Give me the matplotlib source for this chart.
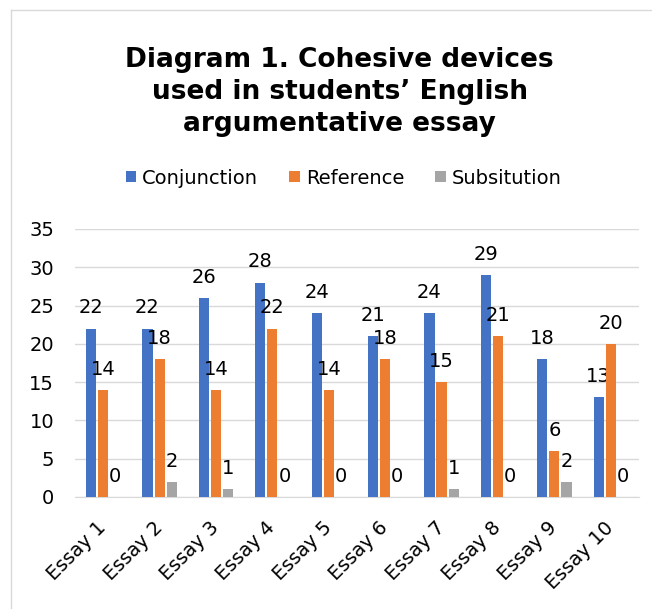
import matplotlib.pyplot as plt
from matplotlib.lines import Line2D
import numpy as np

ESSAYS = ["Essay 1", "Essay 2", "Essay 3", "Essay 4", "Essay 5",
          "Essay 6", "Essay 7", "Essay 8", "Essay 9", "Essay 10"]
CONJUNCTION = [22, 22, 26, 28, 24, 21, 24, 29, 18, 13]
REFERENCE = [14, 18, 14, 22, 14, 18, 15, 21, 6, 20]
SUBSITUTION = [0, 2, 1, 0, 0, 0, 1, 0, 2, 0]
SERIES_NAMES = ["Conjunction", "Reference", "Subsitution"]
COLORS = ["#4472C4", "#ED7D31", "#A5A5A5"]

plt.rcParams['font.family'] = ['DejaVu Sans']
FS = 14

fig = plt.figure(figsize=(6.52, 6.09), dpi=100)
ax = fig.add_axes([0.115, 0.184, 0.865, 0.44])

x = np.arange(len(ESSAYS))
width = 0.18
offset = 0.215
bars = []
for i, (name, vals) in enumerate(zip(SERIES_NAMES, [CONJUNCTION, REFERENCE, SUBSITUTION])):
    b = ax.bar(x + (i - 1) * offset, vals, width, color=COLORS[i], label=name, zorder=3)
    ax.bar_label(b, padding=8, fontsize=FS, color="black")
    bars.append(b)

ax.set_ylim(0, 35)
ax.set_yticks(range(0, 36, 5))
ax.set_xlim(-0.5, len(ESSAYS) - 0.5)
ax.set_xticks(x)
ax.set_xticklabels(ESSAYS, rotation=45, ha="right", va="center", rotation_mode="anchor")
ax.tick_params(axis="both", length=0, labelsize=FS, colors="black")
ax.tick_params(axis="x", pad=20)
ax.tick_params(axis="y", pad=15)
ax.grid(axis="y", color="#D9D9D9", linewidth=1, zorder=0)
for s in ["left", "right", "top"]:
    ax.spines[s].set_visible(False)
ax.spines["bottom"].set_color("#D9D9D9")

fig.text(0.521, 1 - 92 / 609, "Diagram 1. Cohesive devices\nused in students\u2019 English\nargumentative essay",
         ha="center", va="center", fontsize=19, fontweight="bold", linespacing=1.3)

fig.legend(handles=bars, labels=SERIES_NAMES, loc="center", bbox_to_anchor=(0.527, 1 - 178 / 609),
           ncol=3, frameon=False, fontsize=FS, handlelength=0.55, handleheight=0.55,
           handletextpad=0.3, columnspacing=1.6)

# chart area frame (left and top edges visible in the crop)
fig.add_artist(Line2D([11 / 652, 11 / 652], [0, 1 - 10 / 609], transform=fig.transFigure,
                      color="#D9D9D9", linewidth=1))
fig.add_artist(Line2D([11 / 652, 1], [1 - 10 / 609, 1 - 10 / 609], transform=fig.transFigure,
                      color="#D9D9D9", linewidth=1))

fig.savefig("out.png", dpi=100)
